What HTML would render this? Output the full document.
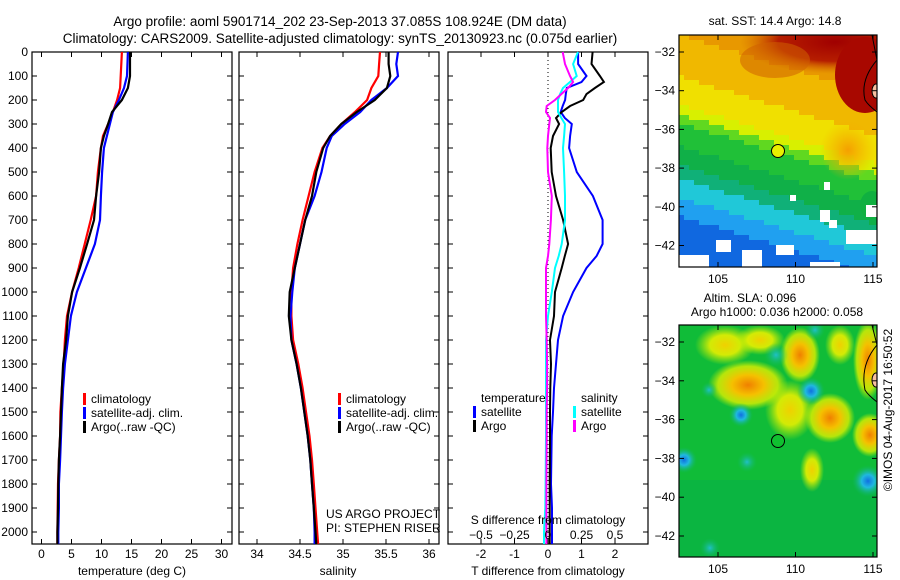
<!DOCTYPE html>
<html><head><meta charset="utf-8"><style>
body{margin:0;background:#fff;}
svg{display:block;font-family:"Liberation Sans",sans-serif;}
</style></head><body>
<svg id="c" width="900" height="580" viewBox="0 0 900 580">
<defs>
<radialGradient id="red"><stop offset="0" stop-color="#a00000"/><stop offset="0.6" stop-color="#b01000" stop-opacity="0.9"/><stop offset="1" stop-color="#d06000" stop-opacity="0"/></radialGradient>
<radialGradient id="ora"><stop offset="0" stop-color="#f5a000"/><stop offset="1" stop-color="#f5b000" stop-opacity="0"/></radialGradient>
<radialGradient id="yel"><stop offset="0" stop-color="#f0d000"/><stop offset="0.5" stop-color="#e8f000" stop-opacity="0.9"/><stop offset="1" stop-color="#c0f000" stop-opacity="0"/></radialGradient>
<radialGradient id="org2"><stop offset="0" stop-color="#f08000"/><stop offset="0.4" stop-color="#f5c000"/><stop offset="0.75" stop-color="#e0f000" stop-opacity="0.8"/><stop offset="1" stop-color="#c0f000" stop-opacity="0"/></radialGradient>
<radialGradient id="blu"><stop offset="0" stop-color="#1070e0"/><stop offset="0.4" stop-color="#20b8e0"/><stop offset="1" stop-color="#10b860" stop-opacity="0"/></radialGradient>
<radialGradient id="cya"><stop offset="0" stop-color="#20c0c8"/><stop offset="1" stop-color="#10b860" stop-opacity="0"/></radialGradient>
</defs>
</svg>
<script>
// ---- data ----
const depthsT = [0,100,150,200,250,300,350,400,500,600,700,800,900,1000,1100,1200,1300,1400,1500,1600,1700,1800,1900,2000,2050];
const tempClim = [13.4,13.2,13.1,12.6,11.9,11.1,10.25,9.9,9.4,9.1,8.2,7.2,6.2,5.1,4.25,3.9,3.7,3.4,3.15,3.1,2.9,2.75,2.7,2.65,2.65];
const tempSat  = [14.4,14.25,13.75,12.9,11.9,11.4,10.9,10.4,10.1,9.9,9.75,8.9,7.4,5.9,4.9,4.4,3.9,3.6,3.4,3.25,3.1,2.9,2.9,2.8,2.8];
const tempArgo = [14.75,14.75,14.4,13.4,11.75,11.1,10.4,9.9,9.6,9.1,8.75,7.6,6.4,5.1,4.4,4.1,3.6,3.4,3.25,3.1,2.9,2.8,2.75,2.65,2.65];
const depthsS = [0,50,100,150,200,250,300,350,400,500,600,700,800,900,1000,1100,1200,1300,1400,1500,1600,1700,1800,1900,2000,2050];
const salClim = [35.43,35.42,35.41,35.33,35.28,35.14,34.98,34.85,34.76,34.67,34.6,34.53,34.47,34.42,34.4,34.4,34.42,34.48,34.53,34.57,34.61,34.64,34.66,34.68,34.7,34.71];
const salSat  = [35.64,35.62,35.64,35.51,35.33,35.2,35.02,34.87,34.81,34.75,34.67,34.56,34.5,34.44,34.41,34.39,34.4,34.46,34.51,34.55,34.59,34.62,34.64,34.66,34.67,34.67];
const salArgo = [35.53,35.53,35.55,35.51,35.37,35.16,34.98,34.85,34.77,34.69,34.64,34.56,34.5,34.44,34.38,34.37,34.4,34.46,34.51,34.55,34.59,34.62,34.64,34.66,34.68,34.69];
const depthsD = [0,50,100,125,150,175,200,225,250,275,300,350,400,500,600,700,800,850,900,1000,1100,1200,1300,1400,1500,1600,1800,1900,2000,2050];
const dTsat  = [0.9,0.9,1.15,1.0,0.56,0.53,0.51,0.44,0.38,0.5,0.71,0.66,0.63,0.86,1.34,1.63,1.63,1.45,1.15,0.75,0.45,0.3,0.24,0.18,0.15,0.11,0.09,0.12,0.12,0.12];
const dTargo = [1.33,1.3,1.55,1.67,1.4,1.15,1.05,0.66,0.41,0.24,0.33,0.15,0.08,0.11,0.24,0.45,0.6,0.5,0.41,0.21,0.18,0.06,0.09,0.07,0.06,0.06,0.05,0.05,0.05,0.05];
const dSsat  = [0.224,0.187,0.214,0.164,0.112,0.09,0.075,0.075,0.075,0.1,0.127,0.12,0.112,0.12,0.127,0.127,0.102,0.08,0.052,0.028,0,-0.015,-0.015,-0.015,-0.015,-0.015,-0.018,-0.02,-0.03,-0.03];
const dSargo = [0.11,0.127,0.164,0.187,0.15,0.1,0.052,-0.01,-0.015,0.015,0.01,0,-0.005,0,0.028,0.022,0.01,0,-0.015,-0.015,-0.015,-0.01,-0.007,-0.007,-0.01,-0.01,-0.012,-0.012,-0.012,-0.012];
const depthTicks = [0,100,200,300,400,500,600,700,800,900,1000,1100,1200,1300,1400,1500,1600,1700,1800,1900,2000];
const tempTicks = [0,5,10,15,20,25,30];
const salTicks = [34,34.5,35,35.5,36];
const dTTicks = [-2,-1,0,1,2];
const dSTicks = [-0.5,-0.25,0,0.25,0.5];
const latTicks = [-32,-34,-36,-38,-40,-42];
const lonTicks = [105,110,115];

// ---- scales ----
const yD = d => 52 + d*0.24;
const xT = t => 41.5 + t*6;
const xS = s => 257 + (s-34)*86;
const xDT = v => 548 + v*33.5;
const xDS = v => 548 + v*134;
const NS='http://www.w3.org/2000/svg';
const svg=document.getElementById('c');
function mk(tag,attrs,parent){const e=document.createElementNS(NS,tag);for(const k in attrs)e.setAttribute(k,attrs[k]);(parent||svg).appendChild(e);return e;}
function txt(x,y,s,anchor,size,parent){const e=mk('text',{x:x,y:y,'text-anchor':anchor||'middle','font-size':size||12,fill:'#000'},parent);e.textContent=s;return e;}

function panel(name,x0,x1){
  const g=mk('g',{});
  
  
  const r=mk('rect',{x:x0,y:yD(0),width:x1-x0,height:yD(2050)-yD(0),fill:'#fff',stroke:'#000','stroke-width':1.2},g);
  
  
  depthTicks.forEach(d=>{mk('line',{x1:x0,x2:x0+5,y1:yD(d),y2:yD(d),stroke:'#000'},g);mk('line',{x1:x1-5,x2:x1,y1:yD(d),y2:yD(d),stroke:'#000'},g);});
  return g;
}
function xticks(g,ticks,fx,labels){
  ticks.forEach(t=>{const x=fx(t);mk('line',{x1:x,x2:x,y1:yD(0),y2:yD(0)+5,stroke:'#000'},g);mk('line',{x1:x,x2:x,y1:yD(2050),y2:yD(2050)-5,stroke:'#000'},g);
  if(labels){const l=txt(x,558,String(t),'middle',12,g);}});
}
function series(g,depths,vals,fx,color,name,w){
  const pts=depths.map((d,i)=>fx(vals[i]).toFixed(1)+','+yD(d).toFixed(1)).join(' ');
  const p=mk('polyline',{points:pts,fill:'none',stroke:color,'stroke-width':w||2.2,'stroke-linejoin':'miter'},g);
  
  
}
function legend(g,x,y,color,label){
  mk('rect',{x:x,y:y-10,width:3,height:12,fill:color},g);
  const t=txt(x+8,y,label,'start',12,g);
  
  
}

// titles
let t1=txt(340,26,'Argo profile: aoml 5901714_202 23-Sep-2013 37.085S 108.924E (DM data)','middle',13.5);


let t2=txt(340,43,'Climatology: CARS2009. Satellite-adjusted climatology: synTS_20130923.nc (0.075d earlier)','middle',13.5);



// panel 1
const p1=panel('temperature-panel',32,232);
depthTicks.forEach(d=>{const l=txt(28,yD(d)+4,String(d),'end',12,p1);});
xticks(p1,tempTicks,xT,true);
series(p1,depthsT,tempClim,xT,'#ff0000','temp-climatology-line');
series(p1,depthsT,tempSat,xT,'#0000ff','temp-satellite-line');
series(p1,depthsT,tempArgo,xT,'#000000','temp-argo-line');
legend(p1,83,403,'#ff0000','climatology');
legend(p1,83,417,'#0000ff','satellite-adj. clim.');
legend(p1,83,431,'#000000','Argo(..raw -QC)');
let a1=txt(132,575,'temperature (deg C)','middle',12,p1);

// panel 2
const p2=panel('salinity-panel',239,439);
xticks(p2,salTicks,xS,true);
series(p2,depthsS,salClim,xS,'#ff0000','sal-climatology-line');
series(p2,depthsS,salSat,xS,'#0000ff','sal-satellite-line');
series(p2,depthsS,salArgo,xS,'#000000','sal-argo-line');
legend(p2,338,403,'#ff0000','climatology');
legend(p2,338,417,'#0000ff','satellite-adj. clim.');
legend(p2,338,431,'#000000','Argo(..raw -QC)');
let c1=txt(326,518,'US ARGO PROJECT','start',12,p2);
let c2=txt(326,532,'PI: STEPHEN RISER','start',12,p2);
let a2=txt(338,575,'salinity','middle',12,p2);

// panel 3
const p3=panel('difference-panel',448,648);
xticks(p3,dTTicks,xDT,true);
mk('line',{x1:548,x2:548,y1:yD(0),y2:yD(2050),stroke:'#000','stroke-dasharray':'1,3'},p3);
series(p3,depthsD,dTsat,xDT,'#0000ff','dT-satellite-line',2);
series(p3,depthsD,dTargo,xDT,'#000000','dT-argo-line',2);
series(p3,depthsD,dSsat,xDS,'#00ffff','dS-satellite-line',2);
series(p3,depthsD,dSargo,xDS,'#ff00ff','dS-argo-line',2);
let lt=txt(481,402,'temperature','start',12,p3);
let ls=txt(581,402,'salinity','start',12,p3);
legend(p3,473,416,'#0000ff','satellite');
legend(p3,473,430,'#000000','Argo');
legend(p3,573,416,'#00ffff','satellite');
legend(p3,573,430,'#ff00ff','Argo');
let st=txt(548,524,'S difference from climatology','middle',12,p3);
dSTicks.forEach(v=>{const l=txt(xDS(v),539,String(v).replace('-','\u2212'),'middle',12,p3);});
let a3=txt(548,575,'T difference from climatology','middle',12,p3);

// maps
const lonX = lon => 718 + (lon-105)*15.5;
function mapFrame(name,y0,y1,latY){
  const g=mk('g',{});
  
  
  latTicks.forEach(l=>{const y=latY(l);mk('line',{x1:679,x2:684,y1:y,y2:y,stroke:'#000'},g);mk('line',{x1:872,x2:877,y1:y,y2:y,stroke:'#000'},g);const t=txt(675,y+4,String(l).replace('-','\u2212'),'end',12,g);});
  lonTicks.forEach(l=>{const x=lonX(l);mk('line',{x1:x,x2:x,y1:y0,y2:y0+5,stroke:'#000'},g);mk('line',{x1:x,x2:x,y1:y1,y2:y1-5,stroke:'#000'},g);const t=txt(x,y1+16,String(l),'middle',12,g);});
  mk('rect',{x:679,y:y0,width:198,height:y1-y0,fill:'none',stroke:'#000','stroke-width':1.2},g);
  return g;
}
// SST map (decorative colour field drawn as pixel blocks)
const cp1=mk('clipPath',{id:'cl1'});mk('rect',{x:679,y:35,width:198,height:232},cp1);
const m1=mk('g',{'clip-path':'url(#cl1)'});


const sstPal=[[0,'#e89800'],[0.12,'#f0b800'],[0.3,'#f0e000'],[0.42,'#d8f000'],[0.46,'#60d820'],[0.5,'#20c038'],[0.6,'#10b048'],[0.68,'#10b078'],[0.74,'#20c8d8'],[0.82,'#20a0f0'],[0.9,'#1068e0'],[1.1,'#1048c8']];
function pal(t){for(let i=sstPal.length-1;i>=0;i--){if(t>=sstPal[i][0])return sstPal[i][1];}return sstPal[0][1];}
for(let yy=35;yy<267;yy+=5){for(let xx=679;xx<877;xx+=5){
  const t=(yy-35-(xx-778)*0.3)/232;
  mk('rect',{x:xx,y:yy,width:5.3,height:5.3,fill:pal(t)},m1);
}}
mk('ellipse',{cx:848,cy:150,rx:28,ry:30,fill:'url(#ora)'},m1);
mk('ellipse',{cx:835,cy:42,rx:95,ry:32,fill:'url(#red)'},m1);
mk('ellipse',{cx:865,cy:75,rx:30,ry:38,fill:'#a80800'},m1);
mk('ellipse',{cx:775,cy:60,rx:35,ry:18,fill:'#d06000',opacity:0.55},m1);
mk('ellipse',{cx:872,cy:205,rx:12,ry:14,fill:'#10b040'},m1);
[[679,255,30,12],[716,240,15,12],[742,250,20,17],[776,245,18,10],[810,262,30,5],[846,230,31,14],[866,205,11,12],[820,210,10,12],[790,195,6,6],[824,182,6,8],[829,220,8,8]].forEach(r=>mk('rect',{x:r[0],y:r[1],width:r[2],height:r[3],fill:'#fff'},m1));
mk('path',{d:'M872 35 L877 60 Q860 80 865 100 Q868 105 877 112',fill:'none',stroke:'#000'},m1);
mk('ellipse',{cx:876,cy:91,rx:4,ry:7,fill:'#f8c0a0',stroke:'#000'},m1);
const mk1=mk('circle',{cx:778,cy:151,r:6.5,fill:'#e8f000',stroke:'#000'},m1);


mapFrame('sst-map-axes',35,267,l=>52+(-32-l)*19.35);
let mt1=txt(775,25,'sat. SST: 14.4 Argo: 14.8','middle',12);

// SLA map
const cp2=mk('clipPath',{id:'cl2'});mk('rect',{x:679,y:325,width:198,height:232},cp2);
const m2=mk('g',{'clip-path':'url(#cl2)'});


mk('rect',{x:679,y:325,width:198,height:232,fill:'#10bc38'},m2);
mk('rect',{x:679,y:480,width:198,height:77,fill:'#08b048',opacity:0.6},m2);
[[748,385,40,25,'url(#org2)'],[800,355,20,28,'url(#org2)'],[830,418,25,25,'url(#org2)'],[870,435,18,22,'url(#org2)'],[790,410,25,30,'url(#yel)'],[812,470,12,22,'url(#yel)'],[725,345,30,20,'url(#yel)'],[760,340,25,15,'url(#yel)'],[840,345,15,20,'url(#yel)'],[868,360,15,40,'url(#org2)']].forEach(b=>mk('ellipse',{cx:b[0],cy:b[1],rx:b[2],ry:b[3],fill:b[4]},m2));
[[776,355,12,'url(#cya)'],[811,391,14,'url(#blu)'],[741,415,12,'url(#blu)'],[684,460,13,'url(#blu)'],[868,481,16,'url(#blu)'],[747,462,10,'url(#cya)'],[815,330,10,'url(#cya)'],[709,390,8,'url(#cya)'],[710,548,10,'url(#cya)']].forEach(b=>mk('circle',{cx:b[0],cy:b[1],r:b[2],fill:b[3]},m2));
mk('path',{d:'M872 325 L877 345 Q860 365 865 390 Q868 395 877 402',fill:'none',stroke:'#000'},m2);
mk('ellipse',{cx:876,cy:380,rx:4,ry:7,fill:'#f8c0a0',stroke:'#000'},m2);
const mk2=mk('circle',{cx:778,cy:441,r:6.5,fill:'#10c030',stroke:'#000'},m2);


mapFrame('sla-map-axes',325,557,l=>342+(-32-l)*19.4);
let mt2=txt(750,302,'Altim. SLA: 0.096','middle',12);
let mt3=txt(777,316,'Argo h1000: 0.036 h2000: 0.058','middle',12);
let cr=txt(0,0,'\u00a9IMOS 04-Aug-2017 16:50:52','middle',12);
cr.setAttribute('transform','translate(892,410) rotate(-90)');


</script>
</body></html>
